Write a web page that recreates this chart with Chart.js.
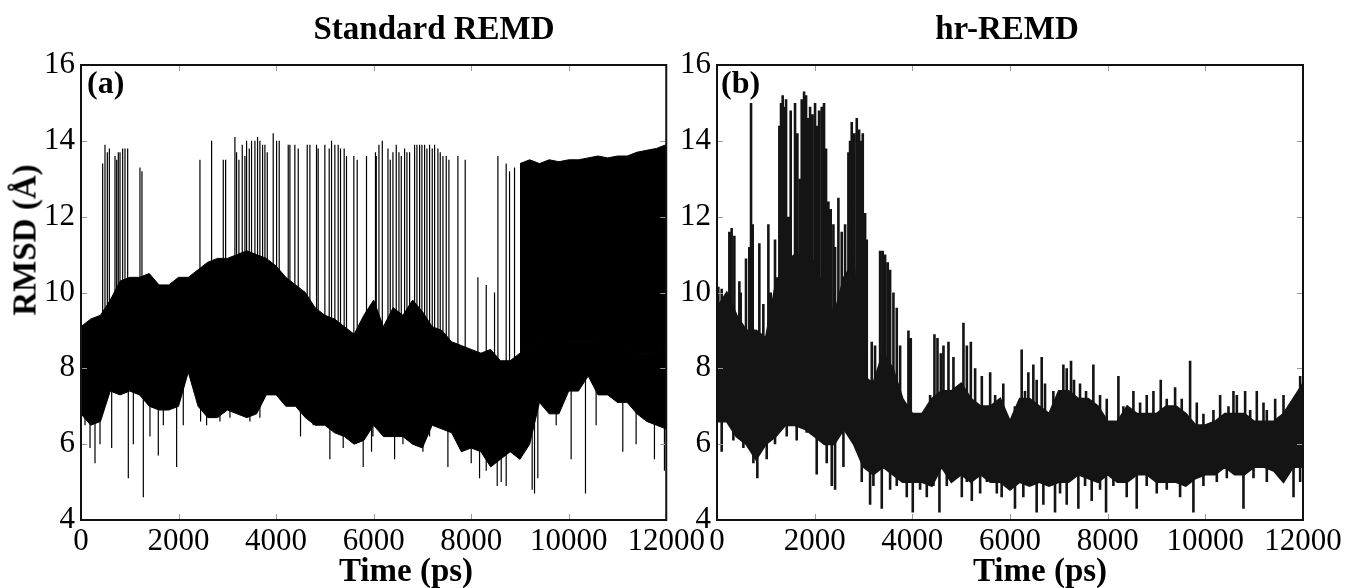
<!DOCTYPE html>
<html>
<head>
<meta charset="utf-8">
<script src="https://cdn.jsdelivr.net/npm/chart.js@4.4.0/dist/chart.umd.min.js"></script>
<style>
  body { margin: 0; background: #fff; width: 1358px; height: 588px; overflow: hidden; position: relative; font-family: "Liberation Serif", "Times New Roman", serif; }
  .panel { position: absolute; top: 0; height: 588px; }
  .lbl { position: absolute; font-weight: bold; font-size: 33px; white-space: nowrap; transform: translate(-50%, -50%); line-height: 1; }
  .tag { position: absolute; font-weight: bold; font-size: 32px; line-height: 1; }
</style>
</head>
<body>
<div class="panel" style="left:0;width:708px"><canvas id="chartA"></canvas></div>
<div class="panel" style="left:640px;width:718px"><canvas id="chartB"></canvas></div>
<div class="lbl" style="left:434px;top:28px">Standard REMD</div>
<div class="lbl" style="left:1007px;top:28px">hr-REMD</div>
<div class="lbl" style="left:406px;top:570px">Time (ps)</div>
<div class="lbl" style="left:1040px;top:570px">Time (ps)</div>
<div class="lbl" style="left:25px;top:240px;transform:translate(-50%,-50%) rotate(-90deg)">RMSD (Å)</div>
<div class="tag" style="left:87px;top:66px">(a)</div>
<div class="tag" style="left:721px;top:66px">(b)</div>
<script>
// time axis (ps) and RMSD axis (Å)
const xTicks = [0, 2000, 4000, 6000, 8000, 10000, 12000];
const yTicks = [4, 6, 8, 10, 12, 14, 16];

// sample times of the dense band envelope, every 200 ps
const bandTimes = [0,200,400,600,800,1000,1200,1400,1600,1800,2000,2200,2400,2600,2800,3000,3200,3400,3600,3800,4000,4200,4400,4600,4800,5000,5200,5400,5600,5800,6000,6200,6400,6600,6800,7000,7200,7400,7600,7800,8000,8200,8400,8600,8800,9000,9200,9400,9600,9800,10000,10200,10400,10600,10800,11000,11200,11400,11600,11800,12000];

//--- (a) Standard REMD ---//
const coreHighA = [9.1,9.3,9.4,9.8,10.3,10.4,10.4,10.5,10.2,10.2,10.4,10.4,10.6,10.8,10.9,10.9,11.0,11.1,11.0,10.9,10.7,10.4,10.2,10.0,9.6,9.4,9.3,9.1,8.9,9.4,9.8,9.1,9.6,9.4,9.8,9.5,9.1,9.0,8.7,8.6,8.5,8.4,8.5,8.2,8.2,8.4,8.6,8.7,8.6,8.6,8.7,8.7,8.7,8.7,8.6,8.5,8.5,8.4,8.4,8.4,8.6];
const coreLowA = [6.8,6.5,6.6,7.4,7.3,7.4,7.3,7.0,6.9,6.9,7.0,7.9,7.0,6.7,6.7,6.9,6.8,6.7,6.8,7.3,7.3,7.0,7.0,6.7,6.5,6.5,6.3,6.2,6.0,6.1,6.5,6.2,6.2,6.2,6.0,5.9,6.5,6.4,6.3,5.8,5.9,5.8,5.4,5.6,5.8,5.6,6.0,7.1,6.8,6.8,7.4,7.4,7.8,7.3,7.3,7.1,7.1,6.8,6.6,6.5,6.4];
// the solid block of jumps after 9 ns
const denseTimesA = [9000,9200,9400,9600,9800,10000,10200,10400,10600,10800,11000,11200,11400,11600,11800,12000];
const denseTopA = [13.4,13.5,13.4,13.5,13.45,13.5,13.5,13.55,13.6,13.55,13.6,13.6,13.7,13.75,13.8,13.9];
// single jumps up
const spikeTimesA = [444,492,540,581,697,731,765,800,854,902,957,1209,1250,2439,2678,2917,2965,3156,3190,3238,3306,3361,3395,3450,3497,3566,3620,3668,3723,3771,3819,3941,4010,4064,4249,4283,4385,4454,4638,4693,4829,4863,5000,5089,5137,5205,5273,5321,5396,5444,5594,5663,5854,6038,6055,6109,6178,6294,6341,6396,6464,6519,6567,6635,6683,6738,6840,6888,6943,6990,7045,7093,7147,7202,7250,7318,7366,7421,7489,7544,7728,7878,8138,8309,8479,8548,8718,8787,8889];
const spikeTopsA = [13.4,13.9,13.7,13.8,13.6,13.5,13.7,13.7,13.8,13.8,13.8,13.3,13.2,13.5,14.0,13.5,13.5,14.1,13.7,13.5,13.9,13.6,14.0,13.8,14.0,14.0,14.1,14.0,13.9,13.9,13.7,14.2,14.0,14.0,13.9,13.9,13.9,13.8,13.9,13.9,13.9,13.8,13.9,13.8,14.0,13.9,13.9,13.8,13.8,13.6,13.6,13.5,13.6,13.7,13.6,13.9,14.0,13.8,13.5,13.7,13.9,13.7,13.6,13.8,13.7,13.7,13.9,13.9,13.9,13.9,13.9,13.8,13.9,13.8,13.9,13.8,13.7,13.6,13.6,13.5,13.6,13.5,10.4,10.2,10.0,13.6,13.4,13.2,13.3];
// single drops down
const dipTimesA = [82,185,287,390,629,970,1073,1278,1414,1585,1688,1961,2097,2452,2575,2849,3054,3258,3463,3668,4078,4501,4761,5103,5376,5581,5786,5957,5986,6430,6601,7011,7147,7523,8001,8172,8309,8534,8616,8718,9251,9299,9367,9743,10050,10344,10562,11109,11382,11758,11963];
const dipValsA = [6.5,5.9,5.5,6.0,5.9,5.1,6.0,4.6,6.2,5.7,6.5,5.4,6.5,6.6,6.5,6.6,6.7,6.8,6.6,6.7,7.3,6.2,6.5,5.6,5.9,6.1,5.4,5.8,6.2,5.6,6.0,5.8,6.2,5.4,5.5,5.1,5.3,4.9,5.0,4.9,4.8,4.7,5.1,6.5,5.6,4.7,6.5,5.8,6.0,5.6,5.3];

//--- (b) hr-REMD ---//
const coreHighB = [9.6,10.0,9.4,9.0,9.0,8.8,10.2,10.8,11.0,11.0,10.8,10.0,9.4,10.4,10.8,7.8,7.6,8.4,8.0,7.2,6.8,6.8,7.2,7.4,7.4,7.6,7.2,7.0,7.0,7.2,6.6,7.2,7.2,7.0,6.8,7.4,7.4,7.2,7.2,7.0,6.6,6.6,7.0,6.8,6.8,6.8,7.0,7.0,6.8,6.5,6.5,6.6,6.8,6.8,6.8,6.6,6.6,6.6,6.8,7.2,7.6];
const coreLowB = [6.6,6.6,6.2,6.0,5.6,6.0,6.2,6.5,6.5,6.4,6.2,6.0,6.0,6.4,6.0,5.4,5.2,5.4,5.2,5.0,5.0,5.0,4.9,5.4,5.0,5.2,5.0,5.2,5.0,5.0,4.8,5.0,4.9,5.0,4.9,5.0,5.0,5.2,5.1,5.0,5.2,5.0,5.0,5.2,5.2,5.0,5.0,5.0,4.9,5.1,5.2,5.2,5.4,5.2,5.2,5.4,5.4,5.3,5.0,5.4,5.4];
const peakTimesB = [27,96,253,300,355,458,485,594,662,697,731,867,949,1052,1100,1188,1236,1277,1311,1345,1380,1414,1462,1509,1598,1646,1701,1735,1783,1824,1871,1906,1953,2008,2042,2090,2145,2192,2233,2281,2329,2384,2418,2486,2554,2623,2691,2725,2759,2807,2862,2910,2951,2985,3033,3067,3169,3237,3340,3394,3442,3497,3545,3613,3681,3750,3920,3968,4159,4364,4453,4515,4583,4638,4740,4842,5047,5116,5198,5286,5423,5594,5696,5863,6100,6239,6307,6376,6478,6546,6649,6717,6888,7093,7161,7250,7311,7434,7557,7707,7844,7981,8220,8322,8527,8664,8800,8937,9087,9210,9381,9517,9688,9825,9961,10166,10303,10474,10576,10645,10815,10918,11054,11191,11259,11430,11601,11703,11840,11942];
const peakValsB = [10.15,10.1,11.6,11.7,11.5,10.3,10.0,10.9,11.2,15.0,11.8,11.3,9.7,11.8,10.0,11.4,10.4,14.4,15.0,15.2,14.9,15.1,12.0,14.8,15.0,14.2,13.0,15.1,15.3,15.2,14.6,14.9,14.7,15.0,14.4,14.8,14.9,15.0,13.8,12.4,12.2,11.8,11.2,12.5,11.6,11.8,13.7,14.0,14.5,14.2,14.6,14.3,14.0,14.2,12.1,11.4,8.7,8.6,11.1,11.1,11.0,10.8,10.6,10.0,9.6,8.6,9.0,8.8,6.8,7.3,8.9,8.8,8.4,8.6,8.7,8.3,9.2,8.6,8.7,8.0,7.8,7.9,7.3,7.6,7.0,8.5,7.4,7.9,8.1,7.7,8.3,7.6,7.4,8.1,8.0,8.2,7.7,7.6,7.4,8.1,7.3,7.2,7.8,7.0,7.4,7.1,7.3,7.4,7.7,7.2,7.5,7.2,8.2,7.1,6.8,6.9,7.3,7.0,7.4,7.3,7.4,6.9,7.4,7.1,6.9,7.2,7.3,6.9,7.2,7.8];
const dipTimesB = [96,335,540,745,826,1018,1188,1428,1632,1837,2042,2247,2350,2418,2589,2793,2964,3135,3203,3374,3545,3681,3818,3886,4009,4159,4296,4432,4555,4706,4842,5013,5116,5218,5389,5526,5730,5829,6000,6102,6273,6546,6683,6820,6922,7025,7161,7400,7537,7673,7844,7967,8117,8390,8595,8800,9005,9210,9483,9756,9961,10235,10440,10781,10986,11259,11533,11806,11942];
const dipValsB = [5.8,6.1,5.9,5.5,5.1,5.6,6.0,6.2,6.1,6.3,5.2,5.5,4.9,4.8,5.4,6.1,5.0,4.4,4.9,4.3,4.8,4.9,5.0,4.6,4.2,4.8,4.6,4.9,4.2,4.9,5.2,4.6,5.0,4.5,4.7,5.0,4.7,4.6,4.8,4.3,4.6,4.2,4.4,4.9,4.2,4.7,4.4,4.3,4.9,4.5,4.8,4.2,4.9,4.6,4.3,4.9,4.7,4.8,4.6,4.2,4.9,5.0,5.1,4.3,5.1,5.0,5.1,4.6,5.0];

function toPoints(times, vals) {
    return times.map((t, i) => ({ x: t, y: vals[i] }));
}

// vertical strokes from the middle of the band out to each read extreme
function sticks(times, vals, high, low) {
    let pts = [];
    times.forEach((t, i) => {
        let k = Math.round(t / 200);
        pts.push({ x: t, y: (high[k] + low[k]) / 2 }, { x: t, y: vals[i] }, { x: t, y: null });
    });
    return pts;
}

// inward ticks on all four sides plus the frame
const frameTicks = {
    id: 'frameTicks',
    afterDatasetsDraw(chart) {
        const { ctx, chartArea: a, scales: { x, y } } = chart;
        ctx.save();
        ctx.strokeStyle = '#999';
        ctx.lineWidth = 1;
        ctx.beginPath();
        xTicks.forEach(v => {
            let px = Math.round(x.getPixelForValue(v)) + 0.5;
            ctx.moveTo(px, a.bottom); ctx.lineTo(px, a.bottom - 6);
            ctx.moveTo(px, a.top); ctx.lineTo(px, a.top + 6);
        });
        yTicks.forEach(v => {
            let py = Math.round(y.getPixelForValue(v)) + 0.5;
            ctx.moveTo(a.left, py); ctx.lineTo(a.left + 6, py);
            ctx.moveTo(a.right, py); ctx.lineTo(a.right - 6, py);
        });
        ctx.stroke();
        ctx.strokeStyle = '#111';
        ctx.lineWidth = 2;
        ctx.strokeRect(a.left, a.top, a.right - a.left, a.bottom - a.top);
        ctx.restore();
    }
};

function makeOptions(yWidth, padRight) {
    const tickFont = { family: "'Liberation Serif', 'Times New Roman', serif", size: 31 };
    return {
        responsive: true,
        maintainAspectRatio: false,
        animation: false,
        events: [],
        layout: { padding: { left: 0, top: 65, right: padRight, bottom: 0 } },
        plugins: { legend: { display: false }, tooltip: { enabled: false } },
        elements: { point: { radius: 0 } },
        scales: {
            x: {
                type: 'linear', min: 0, max: 12000,
                grid: { display: false, drawTicks: false }, border: { display: false },
                afterBuildTicks: s => { s.ticks = xTicks.map(v => ({ value: v })); },
                afterFit: s => { s.height = 68; },
                ticks: { autoSkip: false, maxRotation: 0, padding: 3, color: '#000', font: tickFont, callback: v => String(v) }
            },
            y: {
                min: 4, max: 16,
                grid: { display: false, drawTicks: false }, border: { display: false },
                afterBuildTicks: s => { s.ticks = yTicks.map(v => ({ value: v })); },
                afterFit: s => { s.width = yWidth; },
                ticks: { padding: 6, color: '#000', font: tickFont, callback: v => String(v) }
            }
        }
    };
}

new Chart(document.getElementById('chartA'), {
    type: 'line',
    data: {
        datasets: [
            { data: toPoints(bandTimes, coreHighA), borderColor: '#000', borderWidth: 1, fill: false },
            { data: toPoints(bandTimes, coreLowA), borderColor: '#000', borderWidth: 1, backgroundColor: '#000', fill: '-1' },
            { data: toPoints(denseTimesA, denseTimesA.map(t => coreHighA[t / 200])), borderColor: '#000', borderWidth: 1, fill: false },
            { data: toPoints(denseTimesA, denseTopA), borderColor: '#000', borderWidth: 1, backgroundColor: '#000', fill: '-1' },
            { data: sticks(spikeTimesA, spikeTopsA, coreHighA, coreLowA), borderColor: '#000', borderWidth: 1.2, fill: false, spanGaps: false },
            { data: sticks(dipTimesA, dipValsA, coreHighA, coreLowA), borderColor: '#000', borderWidth: 1.2, fill: false, spanGaps: false }
        ]
    },
    options: makeOptions(81, 41),
    plugins: [frameTicks]
});

new Chart(document.getElementById('chartB'), {
    type: 'line',
    data: {
        datasets: [
            { data: toPoints(bandTimes, coreHighB), borderColor: '#141414', borderWidth: 2, fill: false },
            { data: toPoints(bandTimes, coreLowB), borderColor: '#141414', borderWidth: 2, backgroundColor: '#141414', fill: '-1' },
            { data: sticks(peakTimesB, peakValsB, coreHighB, coreLowB), borderColor: '#141414', borderWidth: 2.6, fill: false, spanGaps: false },
            { data: sticks(dipTimesB, dipValsB, coreHighB, coreLowB), borderColor: '#141414', borderWidth: 2.6, fill: false, spanGaps: false }
        ]
    },
    options: makeOptions(77, 55),
    plugins: [frameTicks]
});
</script>
</body>
</html>
